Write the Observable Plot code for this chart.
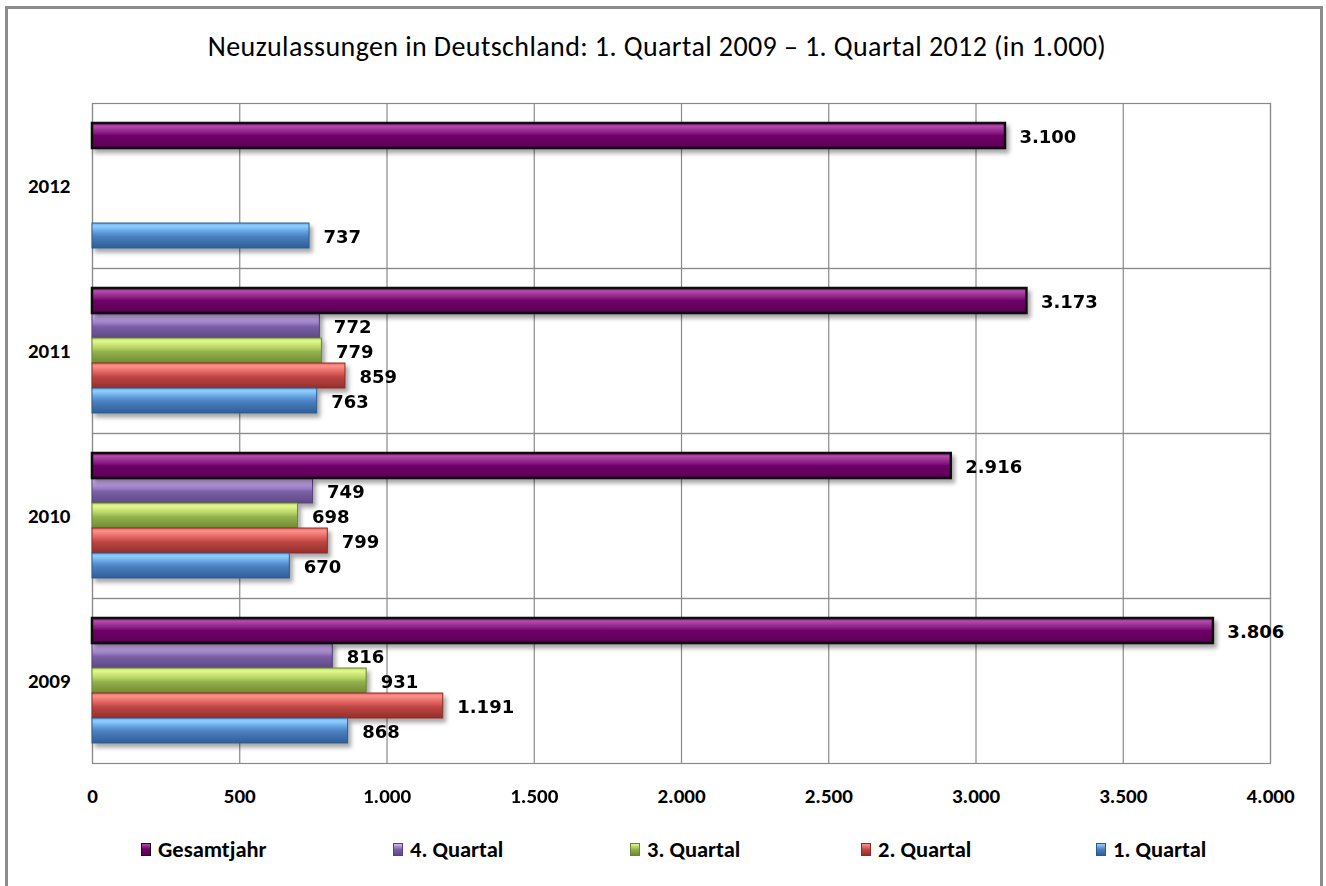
<!DOCTYPE html>
<html>
<head>
<meta charset="utf-8">
<script src="https://cdn.jsdelivr.net/npm/d3@7"></script>
<script src="https://cdn.jsdelivr.net/npm/@observablehq/plot@0.6"></script>
<style>
  html, body { margin: 0; padding: 0; background: #fff; }
  #wrap { position: relative; width: 1326px; height: 886px; background: #fff; overflow: hidden; }
  #border { position: absolute; left: 5px; top: 6px; width: 1318px; height: 900px; box-sizing: border-box;
            border: 3px solid #8c8c8c; border-bottom: none; }
  #title { position: absolute; left: 0; top: 29px; width: 1314px; text-align: center; letter-spacing: 0.4px;
           font-family: Carlito, Calibri, Lato, sans-serif; font-size: 28px; color: #000; }
  #chart { position: absolute; left: 0; top: 0; }
  #chart g[aria-label="bar"] { filter: url(#shadow); }
  .lg { position: absolute; top: 836px; display: flex; align-items: center;
        font-family: Carlito, Calibri, Lato, sans-serif; font-weight: bold; font-size: 22.5px; color: #000; }
  .sw { width: 10px; height: 13px; margin-right: 7px; box-sizing: border-box; }
</style>
</head>
<body>
<svg width="0" height="0" style="position:absolute">
  <defs>
    <filter id="shadow" x="-5%" y="-30%" width="115%" height="180%">
      <feDropShadow dx="3" dy="4" stdDeviation="2.2" flood-color="#000" flood-opacity="0.35"/>
    </filter>
    <linearGradient id="g0" x1="0" y1="0" x2="0" y2="1">
      <stop offset="0" stop-color="#6a0064"/><stop offset="0.12" stop-color="#b54cae"/>
      <stop offset="0.38" stop-color="#8a1e83"/><stop offset="0.5" stop-color="#70006a"/>
      <stop offset="1" stop-color="#5a0054"/>
    </linearGradient>
    <linearGradient id="g1" x1="0" y1="0" x2="0" y2="1">
      <stop offset="0" stop-color="#a98bd3"/><stop offset="0.12" stop-color="#d6b8f7"/>
      <stop offset="0.4" stop-color="#9c7fc8"/><stop offset="0.55" stop-color="#7a5fa4"/>
      <stop offset="1" stop-color="#5e4886"/>
    </linearGradient>
    <linearGradient id="g2" x1="0" y1="0" x2="0" y2="1">
      <stop offset="0" stop-color="#b7d86a"/><stop offset="0.12" stop-color="#e3f88e"/>
      <stop offset="0.4" stop-color="#b5d463"/><stop offset="0.55" stop-color="#93b24f"/>
      <stop offset="1" stop-color="#6f8b32"/>
    </linearGradient>
    <linearGradient id="g3" x1="0" y1="0" x2="0" y2="1">
      <stop offset="0" stop-color="#e06a66"/><stop offset="0.12" stop-color="#ff918b"/>
      <stop offset="0.4" stop-color="#db5e5a"/><stop offset="0.55" stop-color="#bf4744"/>
      <stop offset="1" stop-color="#932e2b"/>
    </linearGradient>
    <linearGradient id="g4" x1="0" y1="0" x2="0" y2="1">
      <stop offset="0" stop-color="#66a6e6"/><stop offset="0.12" stop-color="#92d0ff"/>
      <stop offset="0.4" stop-color="#5a97d8"/><stop offset="0.55" stop-color="#4a7fbe"/>
      <stop offset="1" stop-color="#2e5e98"/>
    </linearGradient>
  </defs>
</svg>
<div id="wrap">
  <div id="border"></div>
  <div id="title">Neuzulassungen in Deutschland: 1. Quartal 2009 – 1. Quartal 2012 (in 1.000)</div>
  <div id="chart"></div>
  <div id="legend"></div>
</div>
<script>
// ---- data ----
const years = ["2009", "2010", "2011", "2012"];
const series = ["Gesamtjahr", "4. Quartal", "3. Quartal", "2. Quartal", "1. Quartal"];
const gesamtjahr = [3806, 2916, 3173, 3100];
const quartal4 = [816, 749, 772, null];
const quartal3 = [931, 698, 779, null];
const quartal2 = [1191, 799, 859, null];
const quartal1 = [868, 670, 763, 737];
const xTicks = [0, 500, 1000, 1500, 2000, 2500, 3000, 3500, 4000];

// ---- styling lookups ----
const seriesValues = [gesamtjahr, quartal4, quartal3, quartal2, quartal1];
const gradFill = ["url(#g0)", "url(#g1)", "url(#g2)", "url(#g3)", "url(#g4)"];
const strokeCol = ["#111111", "#54407a", "#6b852f", "#8c2a27", "#2c5a8f"];
const swatchCss = [
  "linear-gradient(#b04aa9 0%, #70006a 45%, #5a0054 100%)",
  "linear-gradient(#d6b8f7 0%, #7a5fa4 50%, #5e4886 100%)",
  "linear-gradient(#e3f88e 0%, #93b24f 50%, #6f8b32 100%)",
  "linear-gradient(#ff918b 0%, #bf4744 50%, #932e2b 100%)",
  "linear-gradient(#92d0ff 0%, #4a7fbe 50%, #2e5e98 100%)"
];
const legendLeft = [141, 393, 630, 861, 1096];

const rows = [];
years.forEach((yr, i) => series.forEach((s, j) => {
  const v = seriesValues[j][i];
  if (v != null) rows.push({year: yr, series: s, si: j, value: v});
}));

const de = d3.formatLocale({decimal: ",", thousands: ".", grouping: [3], currency: ["", " €"]});
const fmt = de.format(",");

const chart = Plot.plot({
  width: 1326,
  height: 820,
  marginLeft: 92,
  marginRight: 56,
  marginTop: 103,
  marginBottom: 57,
  style: {background: "transparent", fontFamily: "Carlito, Calibri, Lato, sans-serif", overflow: "visible"},
  x: {domain: [0, 4000]},
  y: {domain: series, paddingInner: 0, paddingOuter: 0.73, axis: null},
  fy: {domain: years.slice().reverse(), padding: 0},
  color: {type: "identity"},
  marks: [
    Plot.gridX(xTicks, {stroke: "#8a8a8a", strokeOpacity: 1, strokeWidth: 1.2}),
    Plot.frame({stroke: "#8a8a8a", strokeWidth: 1.2}),
    Plot.barX(rows, {
      filter: d => d.si !== 0,
      x: "value", y: "series", fy: "year",
      fill: d => gradFill[d.si], stroke: d => strokeCol[d.si], strokeWidth: 1
    }),
    Plot.barX(rows, {
      filter: d => d.si === 0,
      x: "value", y: "series", fy: "year",
      fill: d => gradFill[d.si], stroke: d => strokeCol[d.si], strokeWidth: 2.5
    }),
    Plot.text(rows, {
      x: "value", y: "series", fy: "year",
      text: d => fmt(d.value),
      dx: 14, dy: 1, textAnchor: "start",
      fontFamily: "DejaVu Sans", fontWeight: "bold", fontSize: 18, fill: "#000"
    }),
    Plot.axisX({ticks: xTicks, tickFormat: fmt, tickSize: 0, tickPadding: 25,
                fontSize: 21, fontWeight: "bold", label: null, fill: "#000"}),
    Plot.axisFy({anchor: "left", tickSize: 0, tickPadding: 22,
                 fontSize: 21, fontWeight: "bold", label: null, fill: "#000"})
  ]
});
document.getElementById("chart").appendChild(chart);

const legend = document.getElementById("legend");
series.forEach((s, j) => {
  const item = document.createElement("div");
  item.className = "lg";
  item.style.left = legendLeft[j] + "px";
  const sw = document.createElement("div");
  sw.className = "sw";
  sw.style.background = swatchCss[j];
  sw.style.border = "1px solid " + strokeCol[j];
  const t = document.createElement("span");
  t.textContent = s;
  item.appendChild(sw);
  item.appendChild(t);
  legend.appendChild(item);
});
</script>
</body>
</html>
